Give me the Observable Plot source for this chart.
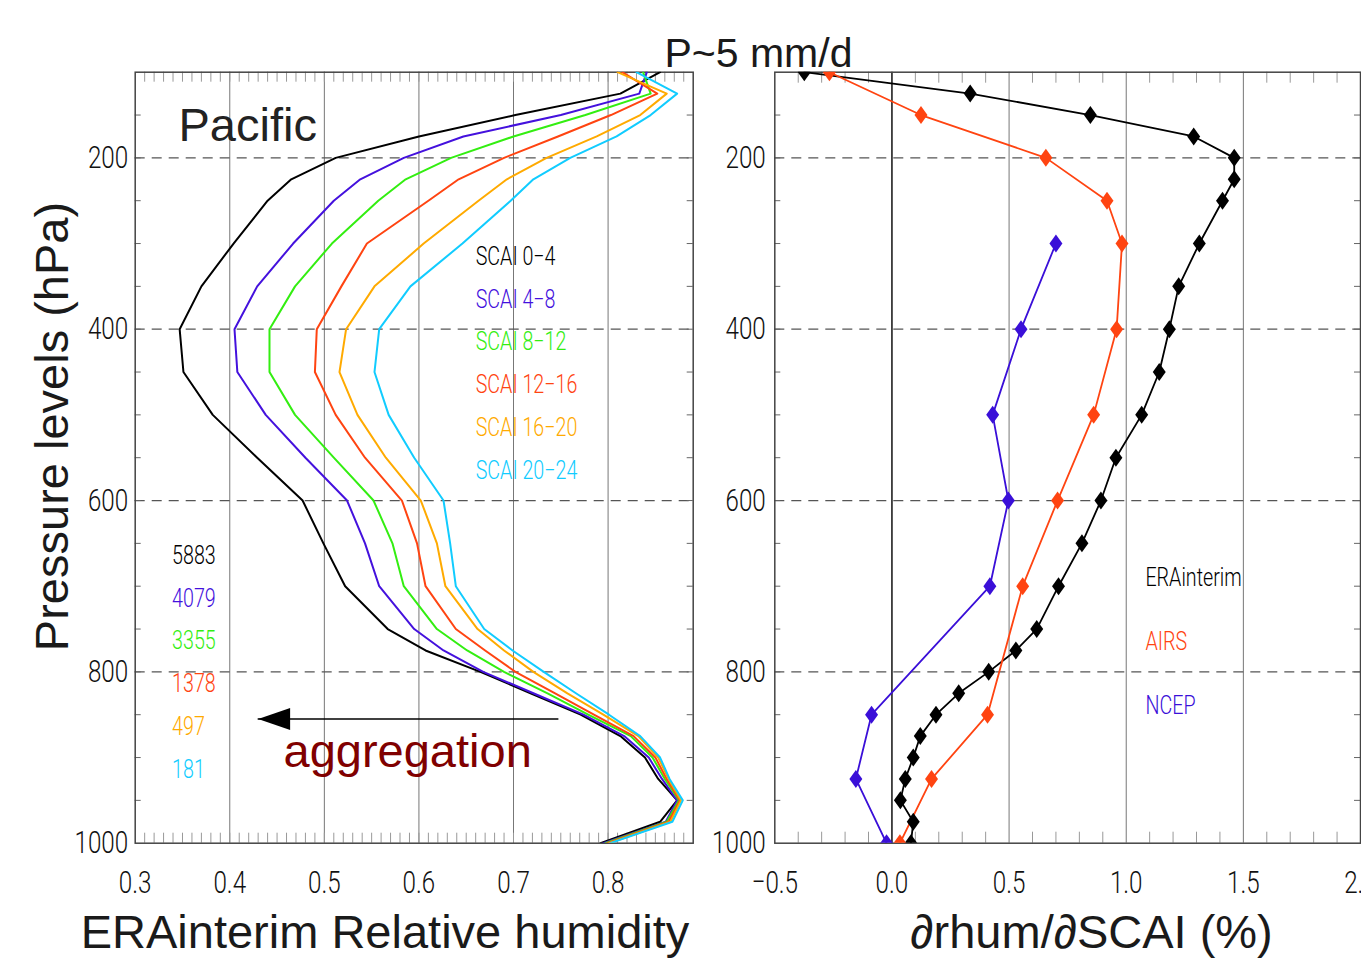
<!DOCTYPE html>
<html><head><meta charset="utf-8">
<script src="https://cdn.jsdelivr.net/npm/d3@7"></script>
<script src="https://cdn.jsdelivr.net/npm/@observablehq/plot@0.6"></script>
<style>
html,body{margin:0;padding:0;background:#fff;overflow:hidden;}
#wrap{position:relative;width:1361px;height:960px;overflow:hidden;background:#fff;}
#left,#right{position:absolute;top:0;}
#left{left:0;} #right{left:695px;}
</style></head>
<body><div id="wrap"><div id="left"></div><div id="right"></div></div>
<script>
// ---------- data ----------
const levels = [100,125,150,175,200,225,250,300,350,400,450,500,550,600,650,700,750,775,800,825,850,875,900,925,950,975,1000];
const scaiBins = ["SCAI 0−4","SCAI 4−8","SCAI 8−12","SCAI 12−16","SCAI 16−20","SCAI 20−24"];
const scaiColors = ["#000000","#4411dd","#33ee11","#ff4411","#ffaa00","#11ccff"];
const scaiCounts = [5883,4079,3355,1378,497,181];
const rh_0_4   = [0.855,0.813,0.702,0.600,0.512,0.465,0.440,0.404,0.370,0.347,0.351,0.382,0.429,0.477,0.499,0.522,0.567,0.607,0.665,0.718,0.771,0.813,0.839,0.853,0.873,0.855,0.792];
const rh_4_8   = [0.841,0.833,0.750,0.647,0.584,0.538,0.510,0.467,0.429,0.405,0.408,0.438,0.480,0.524,0.543,0.558,0.595,0.626,0.668,0.721,0.774,0.817,0.843,0.857,0.873,0.861,0.795];
const rh_8_12  = [0.837,0.845,0.776,0.700,0.634,0.586,0.557,0.508,0.469,0.442,0.442,0.469,0.510,0.552,0.572,0.584,0.619,0.651,0.690,0.736,0.779,0.824,0.847,0.860,0.875,0.862,0.797];
const rh_12_16 = [0.815,0.852,0.803,0.747,0.690,0.642,0.610,0.545,0.518,0.492,0.490,0.512,0.543,0.582,0.598,0.607,0.639,0.670,0.702,0.744,0.785,0.827,0.850,0.862,0.876,0.864,0.799];
const rh_16_20 = [0.810,0.862,0.834,0.788,0.735,0.693,0.663,0.605,0.553,0.523,0.516,0.535,0.565,0.602,0.619,0.628,0.662,0.690,0.721,0.757,0.795,0.832,0.853,0.864,0.877,0.866,0.801];
const rh_20_24 = [0.830,0.873,0.845,0.809,0.760,0.721,0.697,0.646,0.591,0.558,0.553,0.568,0.595,0.626,0.633,0.639,0.669,0.699,0.732,0.766,0.801,0.834,0.855,0.865,0.879,0.868,0.802];

const sources = ["ERAinterim","AIRS","NCEP"];
const sourceColors = ["#000000","#ff4411","#3a0fd8"];
const eraLevels = levels;
const eraSlope  = [-0.374,0.334,0.847,1.288,1.461,1.461,1.411,1.312,1.224,1.184,1.141,1.066,0.956,0.892,0.811,0.711,0.618,0.529,0.413,0.285,0.188,0.121,0.091,0.057,0.036,0.091,0.081];
const airsLevels = [100,150,200,250,300,400,500,600,700,850,925,1000];
const airsSlope  = [-0.267,0.124,0.657,0.918,0.982,0.959,0.861,0.707,0.558,0.408,0.169,0.034];
const ncepLevels = [300,400,500,600,700,850,925,1000];
const ncepSlope  = [0.700,0.551,0.430,0.497,0.418,-0.087,-0.154,-0.023];

const leftXTicks = [0.3,0.4,0.5,0.6,0.7,0.8];
const rightXTicks = [-0.5,0.0,0.5,1.0,1.5,2.0];
const yTicks = [200,400,600,800,1000];

// annotation anchors (data units)
const scaiLabelX = 0.66, scaiLabelP = [315,365,415,465,515,565];
const countLabelX = 0.339, countLabelP = [664,714,764,814,864,914];
const srcLabelX = 1.082, srcLabelP = [690,765,840];
const arrow = [{x1: 0.748, x2: 0.43, p: 855}];

// ---------- tables ----------
const rhSeries = [rh_0_4, rh_4_8, rh_8_12, rh_12_16, rh_16_20, rh_20_24];
const leftRows = scaiBins.flatMap((bin, i) => levels.map((p, j) => ({bin, p, rh: rhSeries[i][j]})));
const rightRows = [
  ...eraLevels.map((p, j) => ({src: "ERAinterim", p, v: eraSlope[j]})),
  ...airsLevels.map((p, j) => ({src: "AIRS", p, v: airsSlope[j]})),
  ...ncepLevels.map((p, j) => ({src: "NCEP", p, v: ncepSlope[j]}))
];

// ---------- styling ----------
const NARROW = "Roboto,'DejaVu Sans Condensed',sans-serif";
const SANS = "'Liberation Sans',Arial,Helvetica,sans-serif";
const H = 960, frameTop = 71.7, frameBottom = 842.7;
const plotH = frameBottom - frameTop;
const diamond = {draw(ctx, size) { const r = Math.sqrt(size / Math.PI); const w = r * 0.72; ctx.moveTo(0, -r); ctx.lineTo(w, 0); ctx.lineTo(0, r); ctx.lineTo(-w, 0); ctx.closePath(); }};
const arrowHead = {draw(ctx) { ctx.moveTo(0, 0); ctx.lineTo(32, -11); ctx.lineTo(32, 11); ctx.closePath(); }};
const baseStyle = {fontFamily: NARROW, fontSize: "32px", fontWeight: 300, color: "#111", background: "transparent", overflow: "visible", maxWidth: "none"};
const bigText = {lineAnchor: "bottom", fontSize: 47, fontFamily: SANS, fontWeight: "normal", fill: "#1a1a1a"};
const legendText = {textAnchor: "start", fontSize: 26, fontFamily: NARROW, fontWeight: 300};

// ---------- left panel ----------
const W1 = 695, fL1 = 134.7, fR1 = 692.7, plotW1 = fR1 - fL1;
const left = Plot.plot({
  width: W1, height: H,
  marginLeft: fL1, marginRight: W1 - fR1, marginTop: frameTop, marginBottom: H - frameBottom,
  style: baseStyle,
  x: {domain: [0.3, 0.89]},
  y: {domain: [100, 1000], reverse: true},
  color: {domain: scaiBins, range: scaiColors},
  marks: [
    Plot.ruleX([0.4,0.5,0.6,0.7,0.8], {stroke: "#777", strokeWidth: 1}),
    Plot.ruleY([200,400,600,800], {stroke: "#555", strokeWidth: 1.2, strokeDasharray: "10,7"}),
    Plot.tickX(d3.range(31, 89).map(d => d / 100), {insetTop: plotH - 10, stroke: "#999"}),
    Plot.tickX(d3.range(31, 89).map(d => d / 100), {insetBottom: plotH - 10, stroke: "#999"}),
    Plot.tickY(d3.range(150, 1000, 50), {insetRight: plotW1 - 6, stroke: "#666"}),
    Plot.tickY(d3.range(150, 1000, 50), {insetLeft: plotW1 - 6, stroke: "#666"}),
    Plot.frame({stroke: "#444", strokeWidth: 1.5}),
    Plot.line(leftRows, {x: "rh", y: "p", z: "bin", stroke: "bin", strokeWidth: 2, clip: true}),
    Plot.ruleY(arrow, {y: "p", x1: "x1", x2: "x2", stroke: "#000", strokeWidth: 1.5}),
    Plot.dot(arrow, {x: "x2", y: "p", symbol: arrowHead, fill: "#000", stroke: "none"}),
    Plot.text(scaiBins, {x: () => scaiLabelX, y: (d, i) => scaiLabelP[i], text: d => d, fill: d => d, ...legendText}),
    Plot.text(scaiCounts, {x: () => countLabelX, y: (d, i) => countLabelP[i], text: d => String(d), fill: (d, i) => scaiBins[i], ...legendText}),
    Plot.text(["Pacific"], {...bigText, frameAnchor: "top-left", dx: 43.3, dy: 68.3, textAnchor: "start", fill: "#222"}),
    Plot.text(["aggregation"], {...bigText, frameAnchor: "top-left", dx: 148.3, dy: 694.8, textAnchor: "start", fill: "#800000"}),
    Plot.text(["Pressure levels (hPa)"], {...bigText, frameAnchor: "left", rotate: -90, dx: -67.7, dy: -31.2, textAnchor: "middle"}),
    Plot.text(["ERAinterim Relative humidity"], {...bigText, frameAnchor: "bottom", dx: -29.2, dy: 104.3, textAnchor: "middle"}),
    Plot.axisX({ticks: leftXTicks, tickSize: 0, tickPadding: 27, tickFormat: d3.format(".1f"), label: null}),
    Plot.axisY({ticks: yTicks, tickSize: 0, tickPadding: 7, tickFormat: d => String(d), label: null})
  ]
});
document.getElementById("left").appendChild(left);

// ---------- right panel ----------
const X0 = 695, W2 = 700, fL2 = 774.3 - X0, fR2 = 1360 - X0, plotW2 = fR2 - fL2;
const right = Plot.plot({
  width: W2, height: H,
  marginLeft: fL2, marginRight: W2 - fR2, marginTop: frameTop, marginBottom: H - frameBottom,
  style: baseStyle,
  x: {domain: [-0.5, 2.0]},
  y: {domain: [100, 1000], reverse: true},
  color: {domain: sources, range: sourceColors},
  marks: [
    Plot.ruleX([0.5, 1.0, 1.5], {stroke: "#777", strokeWidth: 1}),
    Plot.ruleX([0], {stroke: "#111", strokeWidth: 1.5}),
    Plot.ruleY([200,400,600,800], {stroke: "#555", strokeWidth: 1.2, strokeDasharray: "10,7"}),
    Plot.tickX(d3.range(-4, 20).filter(d => d % 5 !== 0).map(d => d / 10), {insetTop: plotH - 11, stroke: "#999"}),
    Plot.tickX(d3.range(-4, 20).filter(d => d % 5 !== 0).map(d => d / 10), {insetBottom: plotH - 11, stroke: "#999"}),
    Plot.tickY(d3.range(150, 1000, 50), {insetRight: plotW2 - 6, stroke: "#666"}),
    Plot.tickY(d3.range(150, 1000, 50), {insetLeft: plotW2 - 6, stroke: "#666"}),
    Plot.frame({stroke: "#444", strokeWidth: 1.5}),
    Plot.line(rightRows, {x: "v", y: "p", z: "src", stroke: "src", strokeWidth: 1.8, clip: true}),
    Plot.dot(rightRows, {x: "v", y: "p", fill: "src", stroke: "none", symbol: diamond, r: 9, clip: true}),
    Plot.text(sources, {x: () => srcLabelX, y: (d, i) => srcLabelP[i], text: d => d, fill: d => d, ...legendText}),
    Plot.text(["P~5 mm/d"], {...bigText, frameAnchor: "top", dx: -309.2, dy: -5.7, textAnchor: "middle", fontSize: 41}),
    Plot.text(["∂rhum/∂SCAI (%)"], {...bigText, frameAnchor: "bottom", dx: 23.9, dy: 104.3, textAnchor: "middle"}),
    Plot.axisX({ticks: rightXTicks, tickSize: 0, tickPadding: 27, tickFormat: d3.format(".1f"), label: null}),
    Plot.axisY({ticks: yTicks, tickSize: 0, tickPadding: 9, tickFormat: d => String(d), label: null})
  ]
});
document.getElementById("right").appendChild(right);

// ---------- condense the narrow (Hershey-like) labels horizontally ----------
function condense(svg, emPerDigit) {
  const ns = "http://www.w3.org/2000/svg";
  const probe = document.createElementNS(ns, "text");
  probe.setAttribute("style", `font-family:${NARROW};font-size:100px;font-weight:300`);
  probe.textContent = "0000";
  svg.appendChild(probe);
  const r = probe.getComputedTextLength() / 400;
  probe.remove();
  const sx = r > 0 ? Math.min(1, emPerDigit / r) : 1;
  svg.querySelectorAll("text").forEach(t => {
    const ff = getComputedStyle(t).fontFamily;
    if (!ff.includes("Roboto")) return;
    const x = t.getAttribute("x");
    let tr = t.getAttribute("transform") || "";
    if (x !== null && !/em$/.test(x)) {
      tr += ` translate(${parseFloat(x) || 0},0)`;
      t.removeAttribute("x");
    }
    t.setAttribute("transform", `${tr} scale(${sx},1)`);
  });
}
condense(left, 0.42);
condense(right, 0.42);
</script>
</body></html>
